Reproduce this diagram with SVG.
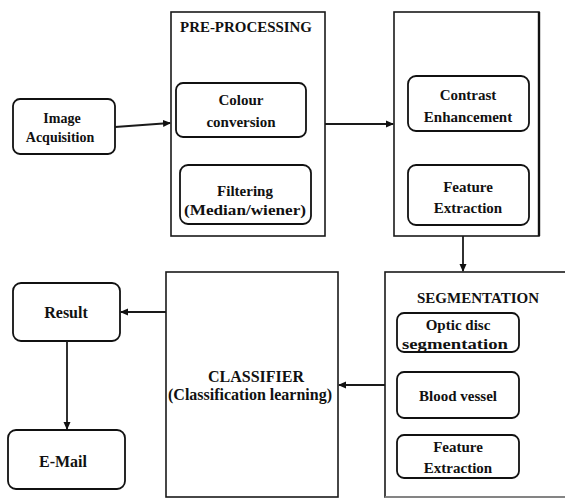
<svg xmlns="http://www.w3.org/2000/svg" width="565" height="499" viewBox="0 0 565 499">
<style>
  .box{fill:#fff;stroke:#1a1a1a;stroke-width:1.6}
  .rbox{fill:#fff;stroke:#111;stroke-width:1.8}
  .t{font-family:'Liberation Serif','Times New Roman','DejaVu Serif',serif;font-weight:bold;fill:#111;text-anchor:middle}
  .s14{font-size:14px}
  .s15{font-size:15px}
  .s16{font-size:16px}
  .conn{stroke:#1a1a1a;stroke-width:1.8;fill:none;marker-end:url(#ah)}
</style>
<defs>
  <marker id="ah" markerWidth="8" markerHeight="8" refX="7" refY="4" orient="auto" markerUnits="userSpaceOnUse">
    <path d="M0,0.5 L8,4 L0,7.5 z" fill="#111"/>
  </marker>
</defs>
<rect width="565" height="499" fill="#fff"/>

<g id="image-acquisition">
  <rect class="rbox" x="13" y="99" width="102" height="55" rx="7"/>
  <text class="t s14" x="62" y="123">Image</text>
  <text class="t s14" x="60" y="142">Acquisition</text>
</g>

<g id="pre-processing">
  <rect class="box" x="171" y="12" width="154" height="224"/>
  <text class="t s15" x="246" y="32" textLength="132" lengthAdjust="spacingAndGlyphs">PRE-PROCESSING</text>
  <g id="colour-conversion">
    <rect class="rbox" x="176" y="83" width="130" height="54" rx="7"/>
    <text class="t s15" x="241" y="105">Colour</text>
    <text class="t s15" x="241" y="127">conversion</text>
  </g>
  <g id="filtering">
    <rect class="rbox" x="180" y="165" width="131" height="59" rx="8"/>
    <text class="t s15" x="245" y="196">Filtering</text>
    <text class="t s15" x="245" y="215" textLength="122" lengthAdjust="spacingAndGlyphs">(Median/wiener)</text>
  </g>
</g>

<g id="enhancement">
  <rect class="box" x="394" y="12" width="145" height="224"/>
  <line x1="539" y1="12" x2="539" y2="236" stroke="#111" stroke-width="2.4"/>
  <g id="contrast-enhancement">
    <rect class="rbox" x="408" y="76" width="121" height="55" rx="8"/>
    <text class="t s15" x="468" y="100">Contrast</text>
    <text class="t s15" x="468" y="122">Enhancement</text>
  </g>
  <g id="feature-extraction-1">
    <rect class="rbox" x="408" y="165" width="121" height="60" rx="8"/>
    <text class="t s15" x="468" y="192">Feature</text>
    <text class="t s15" x="468" y="213">Extraction</text>
  </g>
</g>

<g id="segmentation">
  <rect class="box" x="385" y="272" width="190" height="225"/>
  <line x1="385" y1="497" x2="565" y2="497" stroke="#999" stroke-width="1.6"/>
  <text class="t s15" x="478" y="303">SEGMENTATION</text>
  <g id="optic-disc">
    <rect class="rbox" x="397" y="313" width="122" height="39" rx="7"/>
    <text class="t s15" x="458" y="330">Optic disc</text>
    <text class="t s15" x="455" y="349" textLength="106" lengthAdjust="spacingAndGlyphs">segmentation</text>
  </g>
  <g id="blood-vessel">
    <rect class="rbox" x="397" y="372" width="122" height="46" rx="7"/>
    <text class="t s15" x="458" y="401">Blood vessel</text>
  </g>
  <g id="feature-extraction-2">
    <rect class="rbox" x="397" y="435" width="122" height="43" rx="7"/>
    <text class="t s15" x="458" y="452">Feature</text>
    <text class="t s15" x="458" y="473">Extraction</text>
  </g>
</g>

<g id="classifier">
  <rect class="box" x="166" y="272" width="172" height="225"/>
  <text class="t s16" x="256" y="382">CLASSIFIER</text>
  <text class="t s16" x="250" y="400">(Classification learning)</text>
</g>

<g id="result">
  <rect class="rbox" x="13" y="283" width="107" height="58" rx="8"/>
  <text class="t s16" x="66" y="318">Result</text>
</g>

<g id="email">
  <rect class="rbox" x="8" y="430" width="117" height="59" rx="8"/>
  <text class="t s16" x="63" y="467">E-Mail</text>
</g>

<g id="connectors">
  <line class="conn" x1="115" y1="127" x2="170" y2="123"/>
  <line class="conn" x1="325" y1="124" x2="393" y2="124"/>
  <line class="conn" x1="463" y1="236" x2="463" y2="271"/>
  <line class="conn" x1="385" y1="385" x2="339" y2="385"/>
  <line class="conn" x1="166" y1="312" x2="121" y2="312"/>
  <line class="conn" x1="67" y1="341" x2="67" y2="429"/>
</g>
</svg>
